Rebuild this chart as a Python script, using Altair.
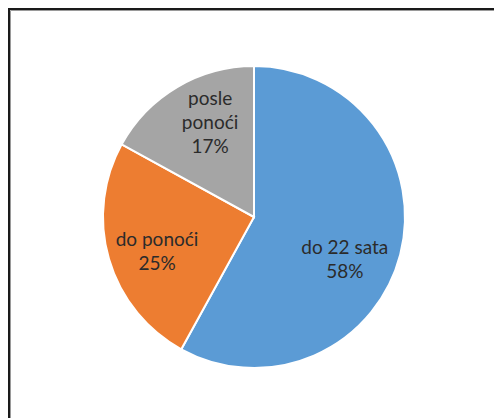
import altair as alt
import pandas as pd

categories = ["do 22 sata", "do ponoći", "posle ponoći"]
label_text = ["do 22 sata", "do ponoći", "posle\nponoći"]
values = [58, 25, 17]
colors = ["#5B9BD5", "#ED7D31", "#A5A5A5"]

df = pd.DataFrame({
    "cat": categories,
    "value": values,
    "idx": list(range(len(categories))),
    "label": [f"{t}\n{v}%" for t, v in zip(label_text, values)],
})

CX, CY, R = 254, 217, 151

pie = alt.Chart(df).mark_arc(radius=R, stroke="white", strokeWidth=2).encode(
    theta=alt.Theta("value:Q", stack=True),
    order=alt.Order("idx:Q"),
    color=alt.Color("cat:N", scale=alt.Scale(domain=categories, range=colors), legend=None),
    x=alt.value(CX),
    y=alt.value(CY),
)

offsets = {"do 22 sata": (-8, 6), "do ponoći": (1, -5), "posle ponoći": (8, -30)}
texts = []
for c in categories:
    dx, dy = offsets[c]
    texts.append(
        alt.Chart(df)
        .transform_joinaggregate(total="sum(value)")
        .transform_window(cum="sum(value)", sort=[alt.SortField("idx")], frame=[None, 0])
        .transform_calculate(ang="(datum.cum - datum.value / 2) / datum.total * 2 * PI")
        .transform_filter(alt.datum.cat == c)
        .mark_text(
            radius=102, dx=dx, dy=dy, font="Lato", fontSize=19, lineHeight=24,
            lineBreak="\n", color="#2b2b2b", align="center", baseline="middle",
        )
        .encode(
            theta=alt.Theta("ang:Q", scale=None),
            text="label:N",
            x=alt.value(CX),
            y=alt.value(CY),
        )
    )

frame = alt.Chart(pd.DataFrame({"a": [0]})).mark_rect(
    fill="transparent", stroke="#1a1a1a", strokeWidth=2, clip=True
).encode(x=alt.value(9), y=alt.value(9), x2=alt.value(600), y2=alt.value(600))

frame2 = alt.Chart(pd.DataFrame({"a": [0]})).mark_rect(
    fill="transparent", stroke="#9a9a9a", strokeWidth=1, clip=True
).encode(x=alt.value(10.5), y=alt.value(10.5), x2=alt.value(600), y2=alt.value(600))

chart = alt.layer(frame2, frame, pie, *texts).resolve_scale(theta="independent").properties(
    width=494, height=418,
    autosize=alt.AutoSizeParams(type="none"),
    padding=0,
    background="white",
).configure_view(strokeWidth=0)

chart.save("out.html", embed_options={"renderer": "svg", "actions": False})
